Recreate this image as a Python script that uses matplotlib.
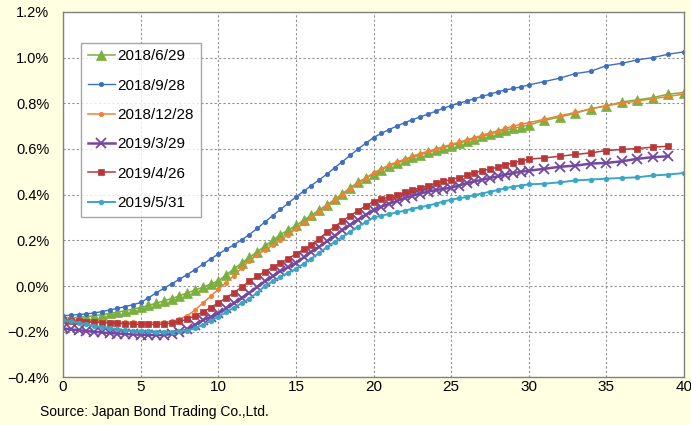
import numpy as np
import matplotlib
matplotlib.use("Agg")
from matplotlib import pyplot as plt
from matplotlib.ticker import FuncFormatter

plt.rcParams['font.family'] = ['Liberation Sans', 'DejaVu Sans']

# maturities (years): half-year steps to 30, yearly after
mat = list(np.arange(0, 30.5, 0.5)) + list(range(31, 41))

labels = ['2018/6/29', '2018/9/28', '2018/12/28', '2019/3/29', '2019/4/26', '2019/5/31']

# yields in %
y_20180629 = [-0.14, -0.139, -0.137, -0.134, -0.13, -0.125, -0.12, -0.114, -0.108, -0.101,
              -0.094, -0.085, -0.075, -0.065, -0.055, -0.043, -0.03, -0.018, -0.005, 0.008,
              0.022, 0.048, 0.075, 0.10, 0.125, 0.15, 0.175, 0.20, 0.225, 0.245,
              0.265, 0.288, 0.31, 0.333, 0.355, 0.38, 0.405, 0.43, 0.455, 0.473,
              0.49, 0.508, 0.525, 0.538, 0.55, 0.563, 0.575, 0.585, 0.595, 0.605,
              0.615, 0.625, 0.635, 0.645, 0.655, 0.665, 0.675, 0.683, 0.69, 0.698, 0.705,
              0.725, 0.74, 0.756, 0.777, 0.788, 0.806, 0.815, 0.825, 0.84, 0.847]
y_20180928 = [-0.13, -0.128, -0.125, -0.122, -0.118, -0.112, -0.105, -0.098, -0.09, -0.082,
              -0.072, -0.052, -0.03, -0.01, 0.01, 0.03, 0.05, 0.072, 0.095, 0.118,
              0.14, 0.16, 0.18, 0.202, 0.225, 0.252, 0.28, 0.308, 0.335, 0.362,
              0.39, 0.415, 0.44, 0.465, 0.49, 0.518, 0.545, 0.572, 0.60, 0.625,
              0.65, 0.668, 0.685, 0.70, 0.715, 0.728, 0.74, 0.752, 0.765, 0.778,
              0.79, 0.80, 0.81, 0.82, 0.83, 0.84, 0.85, 0.858, 0.865, 0.872, 0.88,
              0.895, 0.91, 0.93, 0.94, 0.965, 0.975, 0.99, 1.00, 1.015, 1.025]
y_20181228 = [-0.145, -0.148, -0.15, -0.152, -0.153, -0.155, -0.156, -0.157, -0.158, -0.159,
              -0.16, -0.16, -0.16, -0.159, -0.155, -0.145, -0.13, -0.105, -0.075, -0.045,
              -0.015, 0.015, 0.045, 0.078, 0.11, 0.135, 0.158, 0.178, 0.2, 0.225,
              0.25, 0.275, 0.30, 0.325, 0.35, 0.375, 0.40, 0.425, 0.45, 0.473,
              0.495, 0.513, 0.53, 0.543, 0.555, 0.568, 0.58, 0.59, 0.60, 0.61,
              0.62, 0.63, 0.64, 0.65, 0.66, 0.67, 0.68, 0.69, 0.70, 0.708, 0.715,
              0.73, 0.745, 0.76, 0.775, 0.79, 0.80, 0.81, 0.82, 0.83, 0.84]
y_20190329 = [-0.185, -0.19, -0.193, -0.197, -0.2, -0.203, -0.206, -0.208, -0.21, -0.212,
              -0.213, -0.214, -0.215, -0.214, -0.21, -0.202, -0.19, -0.17, -0.15, -0.135,
              -0.12, -0.098, -0.075, -0.052, -0.03, -0.005, 0.02, 0.042, 0.065, 0.082,
              0.10, 0.125, 0.15, 0.172, 0.195, 0.22, 0.245, 0.268, 0.29, 0.312,
              0.333, 0.347, 0.36, 0.372, 0.385, 0.395, 0.405, 0.413, 0.42, 0.425,
              0.43, 0.44, 0.45, 0.458, 0.465, 0.473, 0.48, 0.488, 0.495, 0.50, 0.505,
              0.513, 0.522, 0.527, 0.536, 0.539, 0.546, 0.557, 0.564, 0.568]
y_20190426 = [-0.15, -0.153, -0.155, -0.157, -0.158, -0.16, -0.162, -0.163, -0.165, -0.167,
              -0.168, -0.168, -0.168, -0.166, -0.163, -0.155, -0.145, -0.13, -0.115, -0.095,
              -0.074, -0.052, -0.03, -0.005, 0.02, 0.042, 0.063, 0.082, 0.10, 0.12,
              0.14, 0.16, 0.18, 0.208, 0.235, 0.26, 0.285, 0.308, 0.33, 0.35,
              0.37, 0.38, 0.39, 0.40, 0.41, 0.42, 0.43, 0.44, 0.45, 0.458,
              0.466, 0.475, 0.485, 0.495, 0.505, 0.512, 0.52, 0.53, 0.54, 0.548, 0.555,
              0.561, 0.568, 0.576, 0.583, 0.593, 0.598, 0.602, 0.608, 0.612]
y_20190531 = [-0.15, -0.155, -0.16, -0.168, -0.175, -0.18, -0.185, -0.189, -0.193, -0.196,
              -0.198, -0.199, -0.2, -0.2, -0.2, -0.198, -0.195, -0.185, -0.17, -0.153,
              -0.135, -0.115, -0.095, -0.075, -0.055, -0.03, 0.0, 0.02, 0.04, 0.058,
              0.075, 0.098, 0.12, 0.145, 0.17, 0.193, 0.215, 0.238, 0.26, 0.28,
              0.30, 0.308, 0.315, 0.322, 0.33, 0.338, 0.345, 0.352, 0.36, 0.37,
              0.378, 0.384, 0.39, 0.398, 0.405, 0.413, 0.42, 0.428, 0.435, 0.44, 0.445,
              0.448, 0.454, 0.462, 0.466, 0.47, 0.473, 0.476, 0.484, 0.488, 0.495]

series = [y_20180629, y_20180928, y_20181228, y_20190329, y_20190426, y_20190531]
colors = ['#7BB040', '#3F6EBF', '#EE8236', '#7248A0', '#B8383A', '#3AA6C4']
markers = ['^', 'o', 'o', 'x', 's', 'o']
msizes = [7, 3.2, 3.2, 6.5, 4, 3.4]
widths = [1.1, 1.0, 1.1, 1.8, 1.1, 1.4]

bg = '#FFFFE1'
fig = plt.figure(figsize=(6.91, 4.25), dpi=100, facecolor=bg)
ax = fig.add_axes([0.0912, 0.112, 0.8987, 0.860])
ax.set_facecolor('white')

for ys, c, m, ms, lw, lab in zip(series, colors, markers, msizes, widths, labels):
    ax.plot(mat[:len(ys)], ys, color=c, marker=m, markersize=ms, lw=lw,
            markeredgewidth=1.3 if m == 'x' else 0.5, label=lab)

ax.set_xlim(0, 40)
ax.set_ylim(-0.4, 1.2)
ax.set_xticks(range(0, 41, 5))
ax.set_yticks(np.arange(-0.4, 1.21, 0.2))
ax.yaxis.set_major_formatter(FuncFormatter(lambda v, p: ('%.1f%%' % v).replace('-', '\u2212')))
ax.tick_params(length=0, labelsize=10.5)
ax.tick_params(axis='y', pad=10)
ax.tick_params(axis='x', pad=2, labelsize=11)
ax.grid(True, color='#909090', ls=(0, (2, 2)), lw=0.8)
for s in ax.spines.values():
    s.set_color('#808080')
    s.set_linewidth(1)

leg = ax.legend(loc='upper left', bbox_to_anchor=(0.029, 0.916), borderaxespad=0,
                fontsize=11, frameon=True, fancybox=False, edgecolor='#909090',
                handlelength=1.75, labelspacing=1.0, borderpad=0.45, handletextpad=0.2)
leg.get_frame().set_linewidth(1)

fig.text(0.058, 0.022, 'Source: Japan Bond Trading Co.,Ltd.', fontsize=10)

fig.savefig('out.png', dpi=100, facecolor=bg)
